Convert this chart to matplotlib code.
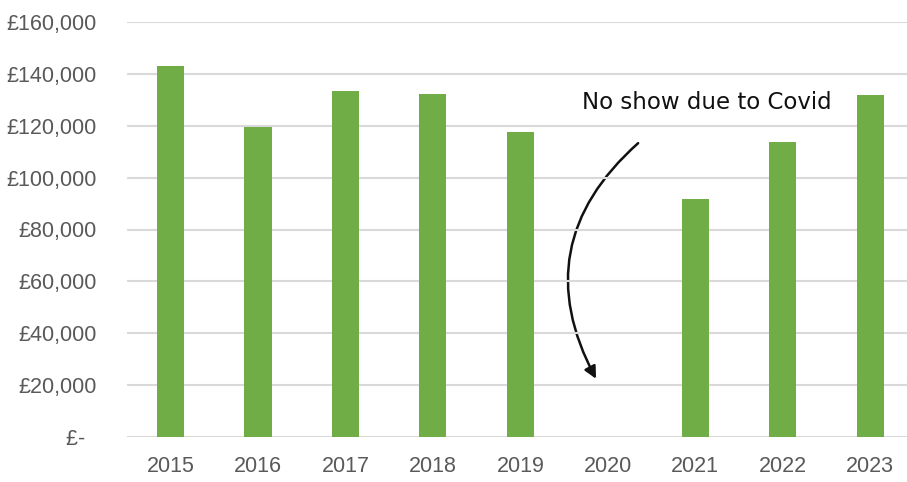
import matplotlib.pyplot as plt
from matplotlib.patches import FancyArrowPatch

years = ["2015", "2016", "2017", "2018", "2019", "2020", "2021", "2022", "2023"]
takings = [143000, 119500, 133400, 132300, 117600, 0, 91800, 113700, 131900]
yticks = [0, 20000, 40000, 60000, 80000, 100000, 120000, 140000, 160000]
ytick_labels = ["£-  ", "£20,000", "£40,000", "£60,000", "£80,000",
                "£100,000", "£120,000", "£140,000", "£160,000"]

plt.rcParams["font.family"] = ["Liberation Sans", "DejaVu Sans"]

fig = plt.figure(figsize=(9.07, 4.82), dpi=100)
ax = fig.add_axes([126.75 / 907, 45 / 482, (914 - 126.75) / 907, 415 / 482])

x = range(len(years))
ax.bar(x, takings, width=0.31, color="#70AD47", zorder=2)

ax.set_ylim(0, 160000)
ax.set_xlim(-0.5, len(years) - 0.5)
ax.set_yticks(yticks)
ax.set_yticklabels(ytick_labels)
ax.set_xticks(list(x))
ax.set_xticklabels(years)
ax.grid(axis="y", color="#D9D9D9", linewidth=1.5, zorder=0)
ax.tick_params(length=0, colors="#595959", labelsize=15.5)
ax.tick_params(axis="y", pad=21.5)
ax.tick_params(axis="x", pad=14)
for s in ax.spines.values():
    s.set_visible(False)

# note about the missing year
ax.text(6.13, 129000, "No show due to Covid", ha="center", va="center",
        fontsize=16.5, family="DejaVu Sans", color="#111111")
arrow = FancyArrowPatch((5.37, 114000), (4.88, 21500),
                        connectionstyle="arc3,rad=0.4", arrowstyle="-|>",
                        mutation_scale=18, color="#111111", linewidth=1.8)
ax.add_patch(arrow)

fig.savefig("out.png", dpi=100)
